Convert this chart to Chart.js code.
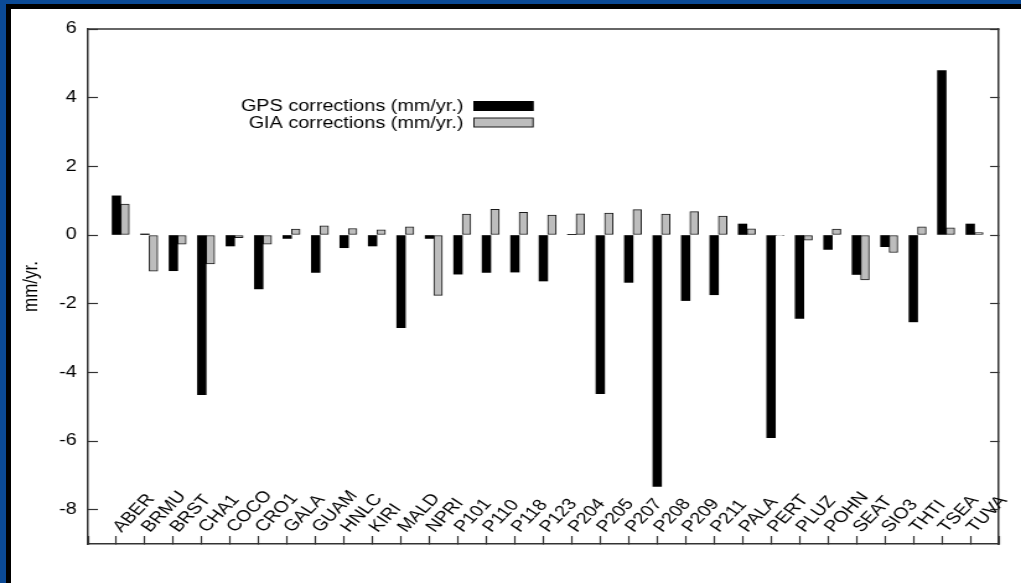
<!DOCTYPE html>
<html lang="en">
<head>
<meta charset="UTF-8">
<title>GPS and GIA corrections (mm/yr.)</title>
<script src="https://cdn.jsdelivr.net/npm/chart.js"></script>
<style>
    html, body {
        margin: 0;
        padding: 0;
        background: #ffffff;
    }

    body {
        position: relative;
        width: 1021px;
        height: 583px;
        overflow: hidden;
    }

    /* slide frame: blue band with a black inner edge, top and left only */
    .frame {
        position: absolute;
        inset: 0;
        box-sizing: border-box;
        border-top: 4px solid #0b4a96;
        border-left: 6px solid #0b4a96;
    }

    .frame-inner {
        position: absolute;
        inset: 0;
        border-top: 5px solid #000;
        border-left: 5px solid #000;
    }

    /* the figure is a little wider than tall, as in the original plot */
    .chart-box {
        position: absolute;
        left: 0;
        top: 0;
        width: 824px;
        height: 583px;
        transform: scaleX(1.2391);
        transform-origin: 0 0;
    }
</style>
</head>
<body>

<div class="frame"><div class="frame-inner"></div></div>
<div class="chart-box"><canvas id="corrChart"></canvas></div>

<script>
    const stations = ['ABER', 'BRMU', 'BRST', 'CHA1', 'COCO', 'CRO1', 'GALA', 'GUAM', 'HNLC', 'KIRI',
        'MALD', 'NPRI', 'P101', 'P110', 'P118', 'P123', 'P204', 'P205', 'P207', 'P208', 'P209',
        'P211', 'PALA', 'PERT', 'PLUZ', 'POHN', 'SEAT', 'SIO3', 'THTI', 'TSEA', 'TUVA'];

    const gpsCorrections = [1.14, 0.03, -1.04, -4.65, -0.32, -1.57, -0.10, -1.09, -0.37, -0.32,
        -2.70, -0.10, -1.14, -1.09, -1.08, -1.34, 0.02, -4.62, -1.38, -7.32, -1.91,
        -1.74, 0.32, -5.90, -2.43, -0.42, -1.15, -0.34, -2.53, 4.79, 0.32];

    const giaCorrections = [0.90, -1.05, -0.27, -0.84, -0.08, -0.27, 0.17, 0.27, 0.19, 0.15,
        0.24, -1.76, 0.61, 0.75, 0.66, 0.58, 0.62, 0.64, 0.74, 0.61, 0.68,
        0.55, 0.18, -0.02, -0.15, 0.17, -1.31, -0.51, 0.24, 0.21, 0.07];

    const yMin = -9;
    const yMax = 6;
    const yStep = 2;

    const STRETCH = 1.2391;
    const AXIS = '#333333';
    const FONT = '"Liberation Sans", Arial, Helvetica, sans-serif';

    // GIA bar sits just right of the GPS bar, which is centred on the station tick
    const gpsPoints = stations.map((s, i) => ({ x: i + 1, y: gpsCorrections[i] }));
    const giaPoints = stations.map((s, i) => ({ x: i + 1.3, y: giaCorrections[i] }));

    // top edge of the box, slanted station names and the in-plot legend
    const plotExtras = {
        id: 'plotExtras',
        afterDraw(chart) {
            const { ctx, chartArea: a, scales: { x } } = chart;
            ctx.save();

            ctx.strokeStyle = AXIS;
            ctx.lineWidth = 1.5;
            ctx.beginPath();
            ctx.moveTo(a.left, a.top);
            ctx.lineTo(a.right, a.top);
            ctx.stroke();

            ctx.fillStyle = '#000';
            ctx.font = '16px ' + FONT;
            ctx.textAlign = 'left';
            ctx.textBaseline = 'alphabetic';
            stations.forEach((name, i) => {
                ctx.save();
                ctx.translate(x.getPixelForValue(i + 1) + 4, a.bottom - 11);
                ctx.rotate(-Math.atan(STRETCH));
                ctx.fillText(name, 0, 0);
                ctx.restore();
            });

            ctx.font = '16px ' + FONT;
            ctx.textAlign = 'right';
            ctx.textBaseline = 'middle';
            chart.data.datasets.forEach((ds, i) => {
                const cy = a.top + 77 + i * 16.5;
                ctx.fillStyle = '#000';
                ctx.fillText(ds.label, a.left + 303, cy + 1);
                ctx.fillStyle = ds.backgroundColor;
                ctx.fillRect(a.left + 311.5, cy - 4.5, 47.7, 9);
                ctx.strokeStyle = ds.borderColor;
                ctx.lineWidth = 1;
                ctx.strokeRect(a.left + 311.5, cy - 4.5, 47.7, 9);
            });

            ctx.restore();
        }
    };

    new Chart(document.getElementById('corrChart'), {
        type: 'bar',
        data: {
            datasets: [
                {
                    label: 'GPS corrections (mm/yr.)',
                    data: gpsPoints,
                    backgroundColor: '#000000',
                    borderColor: '#000000',
                    borderWidth: 0,
                    barPercentage: 1,
                    categoryPercentage: 1,
                    grouped: false
                },
                {
                    label: 'GIA corrections (mm/yr.)',
                    data: giaPoints,
                    backgroundColor: '#bdbdbd',
                    borderColor: '#1a1a1a',
                    borderWidth: 1,
                    borderSkipped: false,
                    barPercentage: 1,
                    categoryPercentage: 1,
                    grouped: false
                }
            ]
        },
        options: {
            responsive: true,
            maintainAspectRatio: false,
            animation: false,
            layout: { padding: { top: 29, right: 18, bottom: 39, left: 0 } },
            plugins: {
                legend: { display: false },
                tooltip: { enabled: false }
            },
            scales: {
                x: {
                    type: 'linear',
                    offset: false,
                    min: 0,
                    max: stations.length + 1,
                    afterFit: (s) => { s.height = 0; },
                    ticks: { display: false, stepSize: 1 },
                    grid: { offset: false, drawOnChartArea: false, tickLength: -8, tickColor: AXIS, tickWidth: 1.2 },
                    border: { display: true, color: AXIS, width: 1.5 }
                },
                y: {
                    min: yMin,
                    max: yMax,
                    afterFit: (s) => { s.width = 71; },
                    ticks: {
                        stepSize: yStep,
                        includeBounds: false,
                        padding: 17,
                        color: '#000',
                        font: { family: FONT, size: 16 }
                    },
                    grid: { drawOnChartArea: false, tickLength: -8, tickColor: AXIS, tickWidth: 1.2 },
                    border: { display: true, color: AXIS, width: 1.5 },
                    title: {
                        display: true,
                        text: 'mm/yr.',
                        color: '#000',
                        padding: { top: 15, bottom: 0 },
                        font: { family: FONT, size: 17 }
                    }
                },
                y2: {
                    position: 'right',
                    min: yMin,
                    max: yMax,
                    afterFit: (s) => { s.width = 0; },
                    ticks: { display: false, stepSize: yStep, includeBounds: false },
                    grid: { drawOnChartArea: false, tickLength: -7, tickColor: AXIS, tickWidth: 1.2 },
                    border: { display: true, color: AXIS, width: 1.5 }
                }
            }
        },
        plugins: [plotExtras]
    });
</script>

</body>
</html>
